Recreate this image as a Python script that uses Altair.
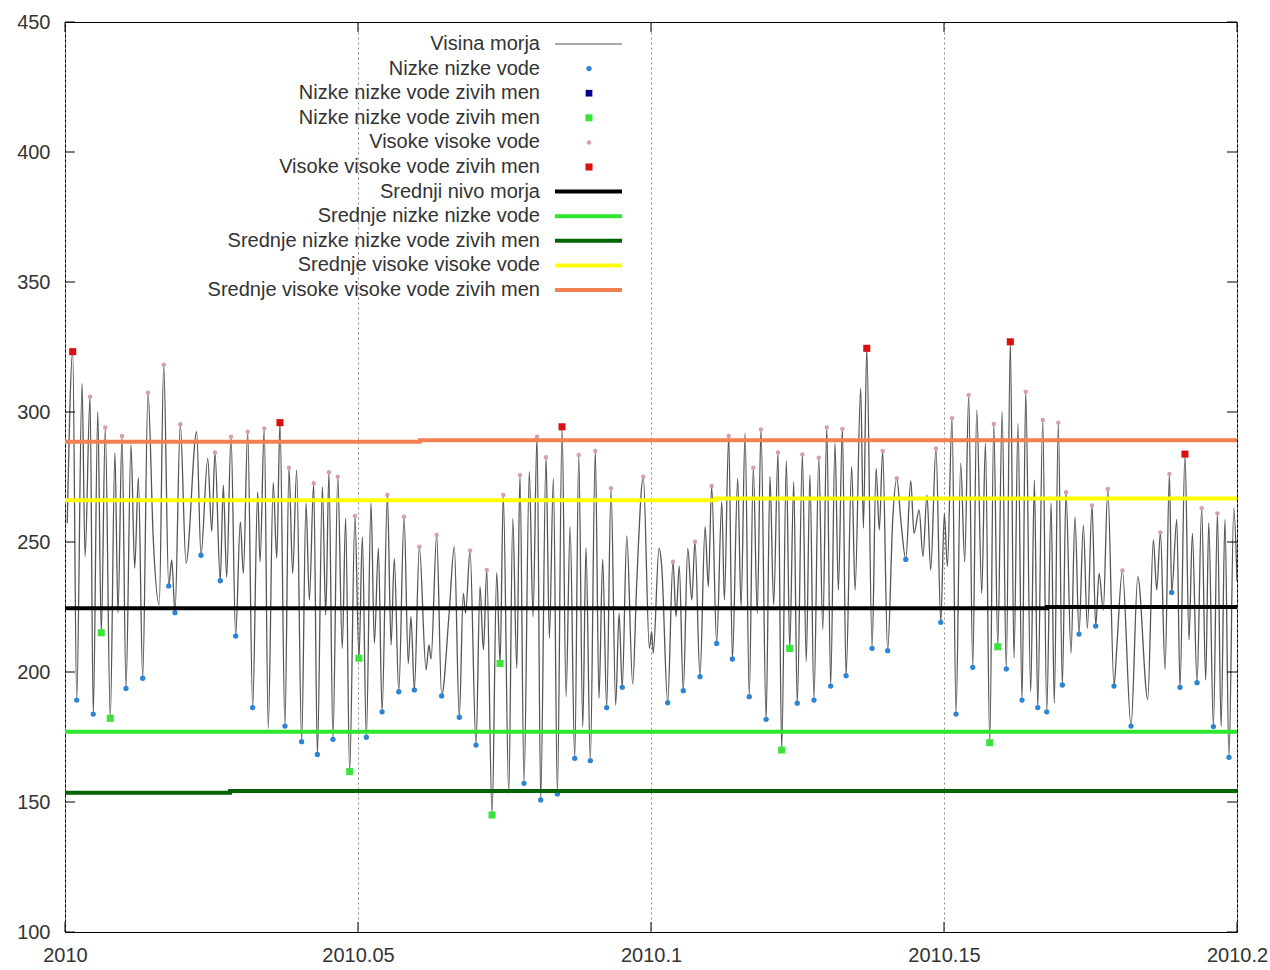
import altair as alt
import pandas as pd

START_YEAR = 2010.0
DAYS_IN_YEAR = 365.0

# Sea level turning points: days after 2010.0, level, marker class
# kind: '-' none, 'B' lower low water, 'G' lower low water (record),
#       'P' higher high water, 'R' higher high water (record)
sea_days = [
    0.14, 0.48, 0.73, 1.06, 1.25, 1.56, 1.76, 2.04, 2.26, 2.51, 2.82, 3.11,
    3.30, 3.55, 3.80, 4.11, 4.34, 4.57, 4.84, 5.17, 5.50, 5.87, 6.15, 6.46,
    6.65, 6.85, 7.18, 7.54, 8.20, 8.47, 8.89, 9.14, 9.34, 9.67, 9.86, 10.07,
    10.34, 10.63, 10.92, 11.11, 11.38, 11.69, 12.00, 12.15, 12.41, 12.66, 12.97, 13.19,
    13.39, 13.70, 13.95, 14.18, 14.43, 14.74, 15.01, 15.22, 15.49, 15.72, 16.03, 16.24,
    16.44, 16.69, 16.99, 17.27, 17.48, 17.73, 18.06, 18.31, 18.52, 18.77, 19.06, 19.27,
    19.52, 19.75, 20.08, 20.31, 20.51, 20.79, 21.12, 21.38, 21.55, 21.76, 22.07, 22.49,
    22.67, 22.80, 23.15, 23.46, 23.92, 24.25, 24.56, 24.81, 24.95, 25.23, 25.60, 25.85,
    26.06, 26.27, 26.60, 26.89, 27.10, 27.30, 27.64, 27.89, 28.14, 28.34, 28.59, 28.92,
    29.15, 29.40, 29.63, 29.96, 30.17, 30.42, 30.67, 30.96, 31.21, 31.46, 31.75, 32.00,
    32.25, 32.45, 32.72, 33.03, 33.26, 33.49, 33.74, 34.01, 34.30, 34.51, 34.71, 34.99,
    35.36, 35.61, 36.02, 36.40, 36.54, 36.64, 37.00, 37.17, 37.54, 37.87, 38.06, 38.26,
    38.51, 38.79, 39.04, 39.24, 39.55, 39.87, 40.07, 40.28, 40.59, 40.91, 41.07, 41.34,
    41.57, 41.90, 42.11, 42.36, 42.62, 42.87, 43.12, 43.35, 43.67, 43.91, 44.14, 44.41,
    44.64, 44.93, 45.14, 45.39, 45.61, 45.93, 46.17, 46.40, 46.65, 46.95, 47.20, 47.45,
    47.69, 47.96, 48.17, 48.42, 48.65, 49.00, 49.21, 49.56, 49.73, 49.94, 50.27, 50.52,
    50.72, 50.93, 51.24, 51.56, 51.81, 52.07, 52.37, 52.68, 52.88, 53.20, 53.44, 53.69,
    53.92, 54.25, 54.55, 54.77, 54.96, 55.25, 55.50, 55.79, 56.04, 56.29, 56.54, 56.79,
    57.10, 57.33, 57.60, 57.85, 58.10, 58.37, 58.63, 58.88, 59.11, 59.36, 59.61, 59.84,
    60.15, 60.38, 60.59, 60.90, 61.15, 61.42, 61.62, 61.87, 62.12, 62.35, 62.66, 62.91,
    63.16, 63.43, 63.68, 63.97, 64.20, 64.41, 64.67, 64.95, 65.34, 65.51, 65.86, 66.40,
    66.82, 67.44, 67.79, 68.00, 68.23, 68.52, 68.79, 68.93, 69.25, 69.45, 69.76, 70.01,
    70.22, 70.51, 70.80, 71.05, 71.24, 71.53, 71.78, 72.01, 72.25, 72.50, 72.80, 73.00,
]
sea_level = [
    257.2, 323.2, 189.2, 311.0, 244.4, 305.9, 183.8, 300.1, 215.1, 294.0, 182.2, 284.4,
    222.7, 290.8, 193.7, 287.3, 239.9, 274.7, 197.6, 307.4, 250.8, 225.8, 318.2, 233.1,
    243.1, 222.8, 295.3, 241.8, 292.4, 244.9, 282.2, 254.0, 284.4, 235.1, 271.9, 236.4,
    290.5, 213.8, 257.8, 237.9, 292.4, 186.3, 269.3, 242.4, 293.7, 178.3, 272.8, 243.7,
    295.9, 179.2, 278.6, 237.9, 277.7, 173.2, 264.9, 227.7, 272.6, 168.3, 271.3, 221.9,
    276.8, 174.1, 275.1, 209.1, 259.1, 161.7, 260.0, 205.3, 252.0, 174.9, 264.9, 211.0,
    247.6, 184.7, 268.1, 210.4, 243.7, 192.4, 259.7, 203.3, 221.3, 193.1, 248.2, 200.8,
    210.4, 205.0, 252.7, 190.8, 222.0, 248.2, 182.6, 230.3, 222.6, 246.7, 171.9, 232.8,
    208.5, 239.2, 145.0, 238.2, 203.3, 268.1, 153.3, 259.1, 201.4, 275.8, 157.2, 277.1,
    221.3, 290.5, 150.8, 282.6, 213.0, 274.5, 153.1, 294.3, 190.5, 255.9, 166.8, 283.5,
    179.0, 247.7, 165.9, 285.0, 189.9, 243.3, 186.3, 270.7, 187.3, 222.6, 194.1, 252.3,
    195.4, 234.1, 275.1, 209.1, 215.5, 207.2, 247.6, 240.5, 188.2, 242.4, 221.3, 240.8,
    192.8, 247.6, 227.7, 250.1, 198.2, 255.9, 232.8, 271.5, 211.0, 265.5, 227.7, 290.8,
    205.0, 274.5, 225.1, 292.0, 190.5, 278.6, 222.6, 293.3, 181.8, 275.1, 225.8, 284.4,
    170.0, 281.3, 209.1, 273.2, 188.0, 283.7, 204.0, 275.8, 189.2, 282.4, 216.2, 294.0,
    194.6, 288.0, 231.5, 293.5, 198.6, 279.0, 231.5, 309.1, 255.3, 324.5, 209.1, 278.3,
    254.6, 285.0, 208.2, 259.1, 274.5, 257.8, 243.3, 273.6, 253.3, 262.3, 244.4, 268.1,
    239.2, 286.0, 219.1, 261.0, 240.5, 297.6, 183.8, 280.3, 242.4, 306.5, 201.8, 300.8,
    230.3, 288.0, 172.8, 295.4, 209.7, 300.1, 201.2, 327.0, 205.3, 295.6, 189.2, 307.8,
    192.4, 273.8, 186.3, 296.9, 184.7, 264.9, 188.0, 295.9, 195.0, 269.1, 207.2, 259.7,
    214.6, 256.5, 216.8, 264.0, 217.7, 237.9, 223.8, 270.4, 194.6, 209.1, 239.0, 179.2,
    236.7, 189.5, 250.8, 231.5, 253.7, 201.0, 276.2, 230.6, 258.7, 194.1, 283.8, 212.3,
    253.3, 195.9, 263.0, 196.9, 257.4, 179.0, 261.0, 179.0, 258.7, 167.2, 263.0, 235.0,
]
sea_kind = [
    "-", "R", "B", "-", "-", "P", "B", "-", "G", "P", "G", "-",
    "-", "P", "B", "-", "-", "-", "B", "P", "-", "-", "P", "B",
    "-", "B", "P", "-", "-", "B", "-", "-", "P", "B", "-", "-",
    "P", "B", "-", "-", "P", "B", "-", "-", "P", "-", "-", "-",
    "R", "B", "P", "-", "-", "B", "-", "-", "P", "B", "-", "-",
    "P", "B", "P", "-", "-", "G", "P", "G", "-", "B", "-", "-",
    "-", "B", "P", "-", "-", "B", "P", "-", "-", "B", "P", "-",
    "-", "-", "P", "B", "-", "-", "B", "-", "-", "P", "B", "-",
    "-", "P", "G", "-", "G", "P", "-", "-", "-", "P", "B", "-",
    "-", "P", "B", "P", "-", "-", "B", "R", "-", "-", "B", "P",
    "-", "-", "B", "P", "-", "-", "B", "P", "-", "-", "B", "-",
    "-", "-", "P", "-", "-", "-", "-", "-", "B", "P", "-", "-",
    "B", "-", "-", "P", "B", "-", "-", "P", "B", "-", "-", "P",
    "B", "-", "-", "-", "B", "P", "-", "P", "B", "-", "-", "P",
    "G", "-", "G", "-", "B", "P", "-", "-", "B", "P", "-", "P",
    "B", "-", "-", "P", "B", "-", "-", "-", "-", "R", "B", "-",
    "-", "P", "B", "-", "P", "-", "B", "-", "-", "-", "-", "-",
    "-", "P", "B", "-", "-", "P", "B", "-", "-", "P", "B", "-",
    "-", "-", "G", "P", "G", "-", "B", "R", "-", "-", "B", "P",
    "-", "-", "B", "P", "B", "-", "-", "P", "B", "P", "-", "-",
    "B", "-", "-", "P", "B", "-", "-", "P", "B", "-", "P", "B",
    "-", "-", "-", "-", "P", "-", "P", "B", "-", "B", "R", "-",
    "-", "B", "P", "-", "-", "B", "P", "-", "-", "B", "-", "-",
]

# Running means (step series): breakpoints in days and levels
msl_days, msl_vals = [0, 61.17, 73], [224.5, 225.0, 225.0]
mllw_days, mllw_vals = [0, 73], [177.0, 177.0]
mllw_rec_days, mllw_rec_vals = [0, 10.28, 73], [153.6, 154.2, 154.2]
mhhw_days, mhhw_vals = [0, 40.5, 73], [266.1, 266.7, 266.7]
mhhw_rec_days, mhhw_rec_vals = [0, 22.1, 73], [288.6, 289.1, 289.1]

x_ticks = [2010, 2010.05, 2010.1, 2010.15, 2010.2]
y_ticks = [100, 150, 200, 250, 300, 350, 400, 450]

legend_labels = [
    "Visina morja",
    "Nizke nizke vode",
    "Nizke nizke vode zivih men",
    "Nizke nizke vode zivih men",
    "Visoke visoke vode",
    "Visoke visoke vode zivih men",
    "Srednji nivo morja",
    "Srednje nizke nizke vode",
    "Srednje nizke nizke vode zivih men",
    "Srednje visoke visoke vode",
    "Srednje visoke visoke vode zivih men",
]

FONT = "Liberation Sans"
FS = 20
TXT = "#333333"

# ---- styles ----
C_SEA = "#555555"
marker_style = {
    "B": ("#2c85d4", "circle", 28),
    "D": ("#00008b", "square", 45),
    "G": ("#3de33d", "square", 50),
    "P": ("#d6a0aa", "circle", 20),
    "R": ("#d81010", "square", 50),
}
mean_style = [
    ("msl", "#000000"),
    ("mllw", "#2ee62e"),
    ("mllw_rec", "#006400"),
    ("mhhw", "#ffff00"),
    ("mhhw_rec", "#f47f50"),
]

# ---- tables ----
def to_year(d):
    return START_YEAR + d / DAYS_IN_YEAR

sea = pd.DataFrame({
    "x": [to_year(d) for d in sea_days],
    "y": sea_level,
    "kind": sea_kind,
})

order = ["B", "D", "G", "P", "R"]
mk = sea[sea["kind"] != "-"].copy()
mk["color"] = mk["kind"].map(lambda k: marker_style[k][0])
mk["shape"] = mk["kind"].map(lambda k: marker_style[k][1])
mk["size"] = mk["kind"].map(lambda k: marker_style[k][2])
mk["ord"] = mk["kind"].map(order.index)
mk = mk.sort_values("ord", kind="stable")

mean_src = {
    "msl": (msl_days, msl_vals),
    "mllw": (mllw_days, mllw_vals),
    "mllw_rec": (mllw_rec_days, mllw_rec_vals),
    "mhhw": (mhhw_days, mhhw_vals),
    "mhhw_rec": (mhhw_rec_days, mhhw_rec_vals),
}
rows = []
for name, col in mean_style:
    ds, vs = mean_src[name]
    for d, v in zip(ds, vs):
        rows.append({"series": name, "x": to_year(d), "y": v, "color": col})
means_df = pd.DataFrame(rows)

xt_df = pd.DataFrame({"x": x_ticks})
yt_df = pd.DataFrame({"y": y_ticks})

# ---- encodings ----
X = alt.X(
    "x:Q",
    scale=alt.Scale(domain=[2010, 2010.2], nice=False, zero=False),
    axis=alt.Axis(
        values=x_ticks, labelExpr="'' + datum.value", grid=True,
        gridDash=[2, 3], gridColor="#8c8c8c", gridWidth=1, tickSize=0,
        domain=False, labelPadding=13, labelFlush=False, labelOverlap=False,
        title=None,
    ),
)
Y = alt.Y(
    "y:Q",
    scale=alt.Scale(domain=[100, 450], nice=False, zero=False),
    axis=alt.Axis(
        values=y_ticks, grid=False, tickSize=0, domain=False,
        labelPadding=15, title=None,
    ),
)

line = alt.Chart(sea).mark_line(
    color=C_SEA, strokeWidth=1.3, interpolate="monotone", clip=True
).encode(x=X, y=Y)

pts = alt.Chart(mk).mark_point(filled=True, opacity=1, clip=True).encode(
    x=X, y=Y,
    color=alt.Color("color:N", scale=None),
    shape=alt.Shape("shape:N", scale=None),
    size=alt.Size("size:Q", scale=None),
)

means = alt.Chart(means_df).mark_line(
    interpolate="step-after", strokeWidth=4, clip=True
).encode(
    x=X, y=Y,
    color=alt.Color("color:N", scale=None),
    detail="series:N",
)

yt_left = alt.Chart(yt_df).mark_rule(color="#000").encode(
    y=Y, x=alt.value(0), x2=alt.value(10))
yt_right = alt.Chart(yt_df).mark_rule(color="#000").encode(
    y=Y, x=alt.value(1162), x2=alt.value(1172))
xt_bottom = alt.Chart(xt_df).mark_rule(color="#000").encode(
    x=X, y=alt.value(910), y2=alt.value(900))
xt_top = alt.Chart(xt_df).mark_rule(color="#000").encode(
    x=X, y=alt.value(0), y2=alt.value(10))

main = alt.layer(line, pts, means, yt_left, yt_right, xt_bottom, xt_top)

# ---- legend (drawn inside the plot, top-left) ----
leg_kinds = ["line", "B", "D", "G", "P", "R", "msl", "mllw", "mllw_rec", "mhhw", "mhhw_rec"]
mean_colors = dict(mean_style)
leg_rows = []
for i, (lab, k) in enumerate(zip(legend_labels, leg_kinds)):
    if k == "line":
        leg_rows.append({"row": i, "label": lab, "type": "line", "color": C_SEA, "sw": 1.0,
                         "shape": "circle", "size": 0})
    elif k in marker_style:
        c, s, z = marker_style[k]
        leg_rows.append({"row": i, "label": lab, "type": "point", "color": c, "sw": 0,
                         "shape": s, "size": z})
    else:
        leg_rows.append({"row": i, "label": lab, "type": "line", "color": mean_colors[k],
                         "sw": 4.0, "shape": "circle", "size": 0})
leg = pd.DataFrame(leg_rows)

LY = alt.Y("row:Q", scale=alt.Scale(domain=[0, 10], range=[22, 268]), axis=None)

leg_text = alt.Chart(leg).mark_text(
    align="right", baseline="middle", font=FONT, fontSize=FS, color=TXT
).encode(x=alt.value(475), y=LY, text="label:N")

leg_lines = alt.Chart(leg[leg["type"] == "line"]).mark_rule().encode(
    x=alt.value(490), x2=alt.value(557), y=LY,
    color=alt.Color("color:N", scale=None),
    strokeWidth=alt.StrokeWidth("sw:Q", scale=None),
)
leg_pts = alt.Chart(leg[leg["type"] == "point"]).mark_point(filled=True, opacity=1).encode(
    x=alt.value(524), y=LY,
    color=alt.Color("color:N", scale=None),
    shape=alt.Shape("shape:N", scale=None),
    size=alt.Size("size:Q", scale=None),
)

legend = alt.layer(leg_text, leg_lines, leg_pts)

chart = (
    alt.layer(main, legend)
    .resolve_scale(y="independent")
    .properties(
        width=1172, height=910,
        padding={"left": 65, "top": 22, "right": 33, "bottom": 38},
        autosize=alt.AutoSizeParams(type="none"),
        background="white",
    )
    .configure_view(stroke="#000000", strokeWidth=1)
    .configure_axis(labelFont=FONT, labelFontSize=FS, labelColor=TXT)
)

chart.save("out.html", embed_options={"renderer": "svg", "actions": False})
